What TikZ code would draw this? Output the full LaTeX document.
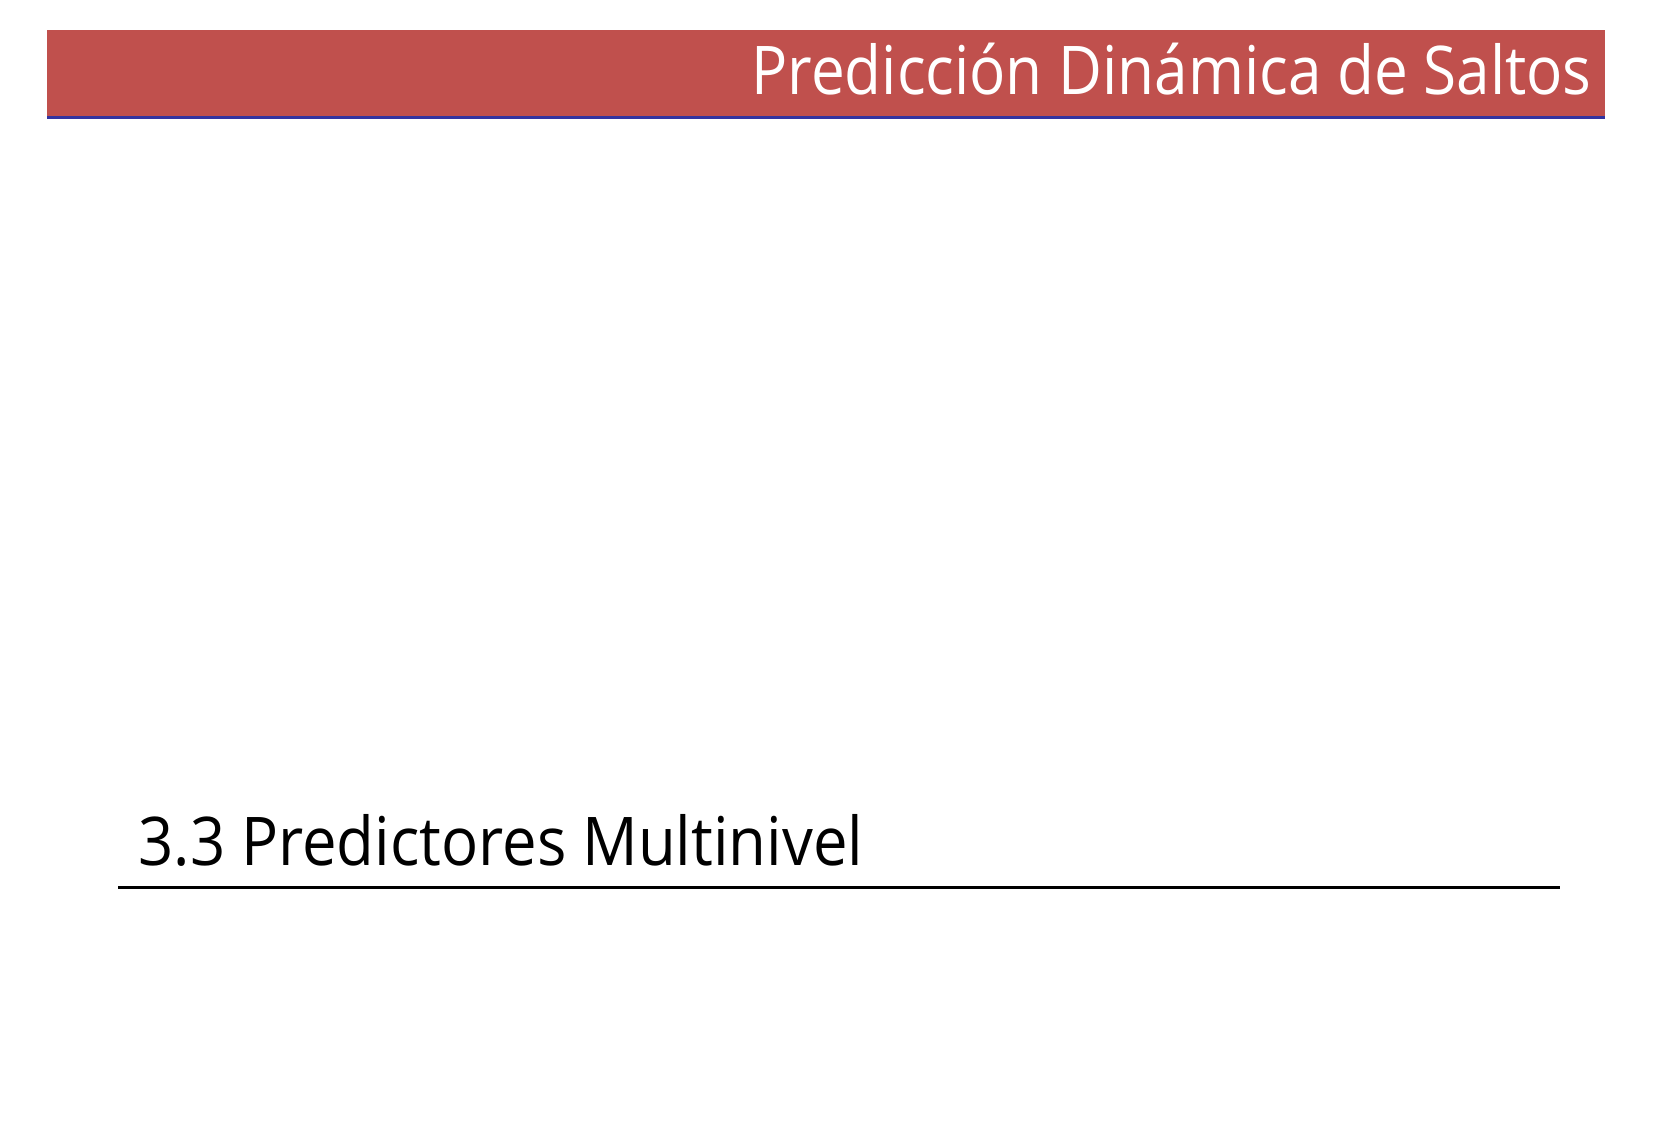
\documentclass[tikz,border=0pt]{standalone}
\usepackage{fontspec}
\setmainfont{Open Sans}
\definecolor{bandred}{HTML}{C0504D}
\definecolor{bandblue}{HTML}{3333A0}
\begin{document}
\begin{tikzpicture}[x=0.5pt,y=-0.5pt,
  titletext/.style={inner sep=0pt,font=\fontsize{33.6}{40}\selectfont},
]
\useasboundingbox[fill=white] (0,0) rectangle (1653,1144);
\fill[bandred] (47,30) rectangle (1605,116.5);
\fill[bandblue] (47,116.5) rectangle (1605,119.5);
\node[titletext,text=white,anchor=base east] (title) at (1592,95) {\scalebox{0.896}[1]{Predicción Dinámica de Saltos}};
\node[titletext,text=black,anchor=base west] (sub) at (138,865) {\scalebox{0.917}[1]{3.3 Predictores Multinivel}};
\coordinate (ulA) at (118,887);
\coordinate (ulB) at (1560,887);
\draw[line width=1.5pt] (ulA) -- (ulB);
\end{tikzpicture}
\end{document}
